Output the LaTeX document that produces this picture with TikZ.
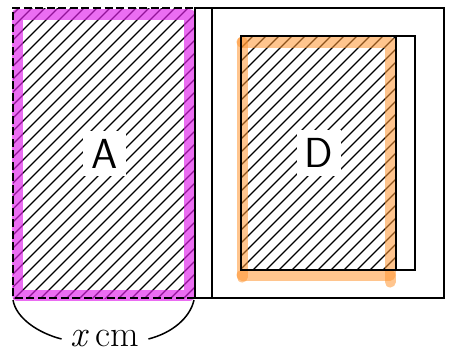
\documentclass[tikz,border=0pt]{standalone}
\usepackage{fontspec}
\begin{document}
\begin{tikzpicture}[x=1pt,y=-1pt,
  frame/.style={draw=black,line width=2.2pt},
  hatch/.style={draw=black,line width=1.3pt},
  dashframe/.style={draw=black,line width=2.6pt,dash pattern=on 8pt off 3.5pt},
  hlmag/.style={draw={rgb,255:red,225;green,30;blue,235},opacity=0.65,line width=11pt,line join=round,line cap=round},
  hlorg/.style={draw={rgb,255:red,255;green,150;blue,50},opacity=0.55,line width=11pt,line join=round,line cap=round},
  letter/.style={fill=white,inner sep=8pt,font=\fontsize{42}{44}\selectfont\sffamily},
  brace/.style={draw=black,line width=1.5pt},
  ]
\useasboundingbox (0,0) rectangle (451,354);
% coordinates
\coordinate (atl) at (13,8);
\coordinate (abr) at (195,298);
\coordinate (otl) at (195,8);
\coordinate (obr) at (444,298);
\coordinate (stt) at (212,8);
\coordinate (stb) at (212,298);
\coordinate (dtl) at (241,36);
\coordinate (dbr) at (415,270);
\coordinate (dst) at (396,36);
\coordinate (dsb) at (396,270);
% hatching A
\begin{scope}
\clip (atl) rectangle (abr);
\foreach \i in {-403,-390,...,200} \draw[hatch] (\i,300) -- ++(300,-300);
\end{scope}
% hatching D
\begin{scope}
\clip (dtl) rectangle (dsb);
\foreach \i in {-100,-87,...,420} \draw[hatch] (\i,272) -- ++(300,-300);
\end{scope}
% highlights
\draw[hlmag] (17,14) rectangle (189,295);
\draw[hlorg] (242,42) -- (390,42) -- (390,282);
\draw[hlorg] (242,42) -- (242,277);
\draw[hlorg] (242,275) -- (390,275);
% frames
\draw[frame] (otl) rectangle (obr);
\draw[frame] (stt) -- (stb);
\draw[frame] (dtl) rectangle (dbr);
\draw[frame] (dst) -- (dsb);
\draw[dashframe] (abr) -- (13,298) -- (atl) -- (otl);
% labels
\node[letter] (A) at (104.5,153.5) {A};
\node[letter] (D) at (319,153) {D};
\node[inner xsep=9pt,inner ysep=0pt,font=\fontsize{37}{40}\selectfont] (xcm) at (105,339) {\textit{x}\,cm};
\coordinate (bl) at (13,300);
\coordinate (br) at (194,300);
\draw[brace] (bl) .. controls (16,318) and (38,333) .. (xcm.west);
\draw[brace] (xcm.east) .. controls (172,333) and (190,318) .. (br);
\end{tikzpicture}
\end{document}
